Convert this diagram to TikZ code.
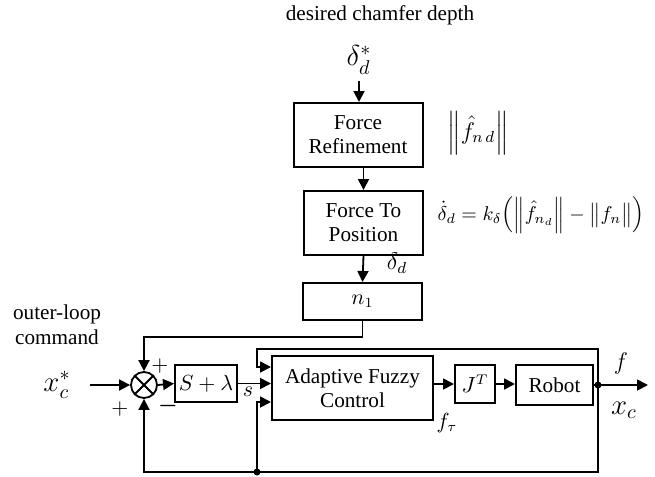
\documentclass[tikz,border=0pt]{standalone}
\usepackage{fontspec}
\setmainfont{Liberation Serif}
\usepackage{tikz}
\usetikzlibrary{calc,arrows.meta,positioning}
\usepackage{amsmath}
\tikzset{
  block/.style={draw, line width=1pt, align=center, inner sep=0pt, font=\fontsize{10.6}{12}\selectfont},
  arr/.style={line width=0.9pt, -{Triangle[length=5.5pt,width=5.5pt]}},
  wire/.style={line width=0.9pt},
  jdot/.style={circle, fill, inner sep=0pt, minimum size=3.5pt},
}

\begin{document}
\begin{tikzpicture}[x=0.5pt, y=-0.5pt, font=\fontsize{10.6}{12.5}\selectfont]
      \useasboundingbox (0,0) rectangle (655,477);
      % Outer chain (desired depth)
      \node (title) at (380,15) {desired chamfer depth};
      \node (dstar) at (359,60) {\Large $\delta^{*}_{d}$};
      \node[block, minimum width=64.5pt, minimum height=32pt] (fr) at (358,135) {Force\\Refinement};
      \node[block, minimum width=59.5pt, minimum height=32pt] (ftp) at (363.5,223) {Force To\\Position};
      \node[block, minimum width=59.5pt, minimum height=18.5pt] (n1) at (362.5,301.5) {$n_1$};
      \node[inner sep=1pt] (fnd) at (478,133) {\large $\left\|\hat{f}_{n\,d}\right\|$};
      \node[inner sep=1pt, font=\fontsize{9.6}{11}\selectfont] (law) at (541,215) {$\dot{\delta}_{d} = k_{\delta}\Bigl(\Bigl\|\hat{f}_{n_d}\Bigr\| - \bigl\|f_{n}\bigr\|\Bigr)$};
      \node[inner sep=1pt] (dd) at (397,263) {\large $\delta_{d}$};
      \draw[arr] (dstar.south) -- (dstar.south |- fr.north);
      \draw[arr] (ftp.north |- fr.south) -- (ftp.north);
      \draw[arr] (ftp.south) -- (n1.north);
      % Inner loop
      \node (cmd) at (57,325) [align=center] {outer-loop\\command};
      \node (xcs) at (57,385) {\Large $x^{*}_{c}$};
      \node[circle, draw, line width=0.9pt, minimum size=13pt, inner sep=0pt] (sum) at (144,385) {};
      \draw[line width=0.9pt] (sum.north west) -- (sum.south east) (sum.north east) -- (sum.south west);
      \node[block, minimum width=31pt, minimum height=18.5pt] (slam) at (206,383.5) {$S+\lambda$};
      \node[block, minimum width=80.5pt, minimum height=32pt] (afc) at (352.5,388) {Adaptive Fuzzy\\Control};
      \node[block, minimum width=20pt, minimum height=19pt] (jt) at (475,384) {$J^{T}$};
      \node[block, minimum width=38.5pt, minimum height=20pt] (robot) at (554.5,385) {Robot};
      \coordinate (olc) at (144,337);
      \coordinate (jr) at (598,385);
      \coordinate (tl) at (257,349);
      \coordinate (bl) at (257,472);
      \coordinate (br) at (598,472);
      \coordinate (out) at (648,385);
      \node[jdot] at (jr) {};
      \node[jdot] at (bl) {};
      \draw[arr] (n1.south) |- (olc) -- (sum.north);
      \draw[arr] (xcs.east) ++(6pt,0) -- (sum.west);
      \draw[arr] (sum.east) -- (slam.west);
      \draw[arr] (slam.east) -- (slam.east -| afc.west);
      \draw[arr] (jr) |- (tl) |- ([yshift=10.5pt]afc.west);
      \draw[arr] (bl) |- ([yshift=-7pt]afc.west);
      \draw[arr] (jr) -- (br) -| (sum.south);
      \draw[arr] (afc.east |- jt.west) -- (jt.west);
      \draw[arr] (jt.east) -- (jt.east -| robot.west);
      \draw[arr] (robot.east |- jr) -- (out);
      % Signs and labels
      \node at (160,366) {$+$};
      \node at (120,409) {$+$};
      \node at (168,406) {$\boldsymbol{-}$};
      \node at (248,392) {$s$};
      \node at (447,423) {$f_{\tau}$};
      \node at (621,363) {\large $f$};
      \node at (624,410) {\Large $x_{c}$};
\end{tikzpicture}
\end{document}
